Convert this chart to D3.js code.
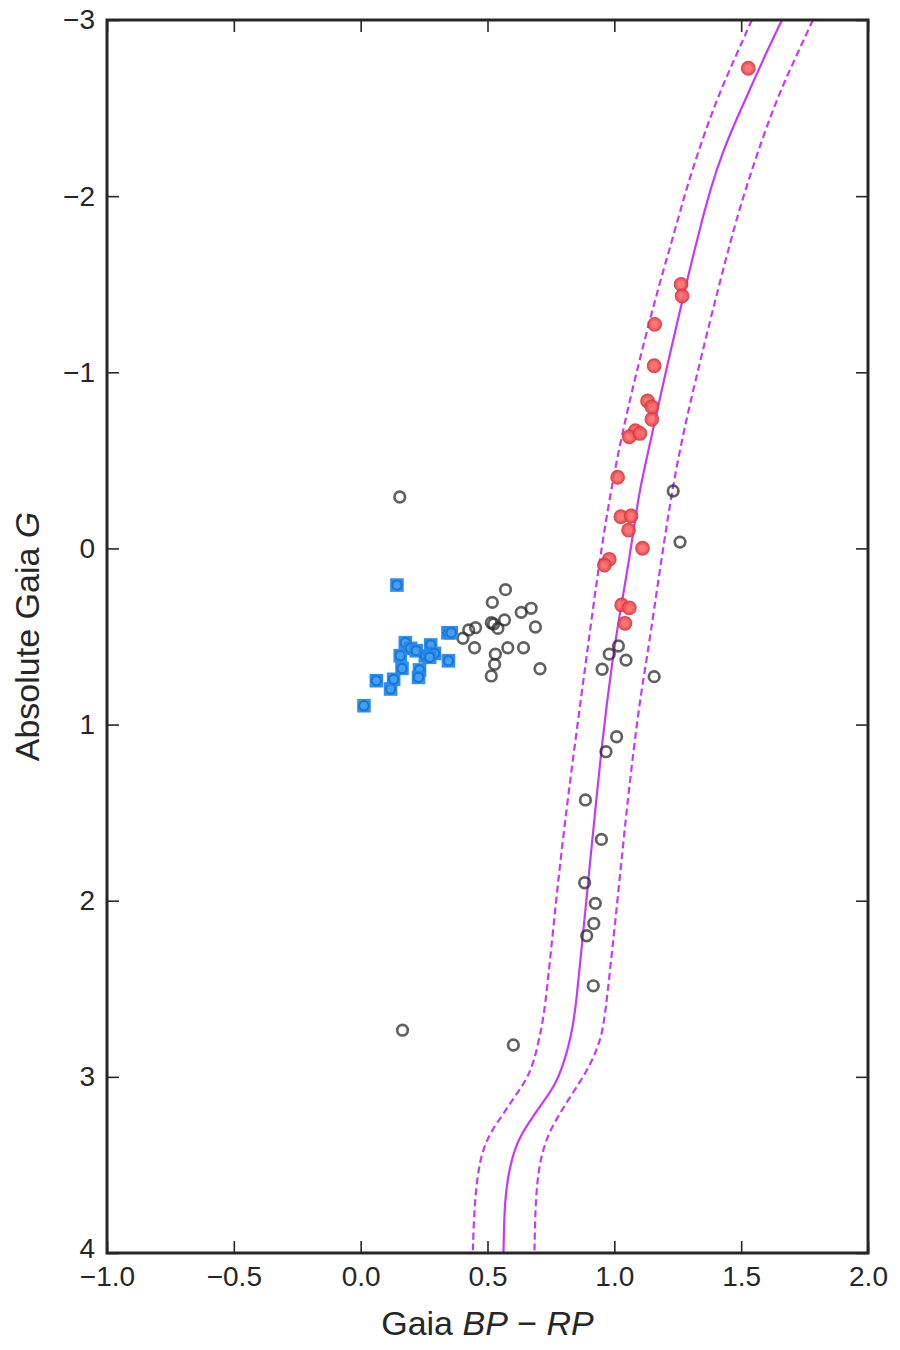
<!DOCTYPE html>
<html>
<head>
<meta charset="utf-8">
<script src="https://cdn.jsdelivr.net/npm/d3@7"></script>
<style>
  body { margin: 0; background: #fff; }
  svg text { font-family: 'Liberation Sans', Arial, sans-serif; }
</style>
</head>
<body>
<div id="chart"></div>
<script>
'use strict'

// isochrone (solid) and its two bounds (dashed), [BP-RP, M_G]
var isoMid = [
  [1.661, -3.0], [1.598, -2.811], [1.539, -2.621], [1.48, -2.432],
  [1.425, -2.243], [1.382, -2.054], [1.346, -1.865], [1.313, -1.675],
  [1.287, -1.524], [1.213, -1.07], [1.126, -0.502], [1.098, -0.315],
  [1.078, -0.122], [1.058, 0.066], [1.036, 0.253], [1.013, 0.446],
  [0.993, 0.633], [0.972, 0.861], [0.949, 1.144], [0.929, 1.428],
  [0.909, 1.712], [0.89, 1.996], [0.87, 2.28], [0.851, 2.564],
  [0.836, 2.72], [0.817, 2.84], [0.795, 2.944], [0.77, 3.035],
  [0.726, 3.131], [0.677, 3.228], [0.618, 3.359], [0.587, 3.512],
  [0.567, 3.699], [0.563, 4.0]
]
var isoBlue = [
  [1.542, -3.0], [1.484, -2.811], [1.425, -2.621], [1.374, -2.432],
  [1.329, -2.243], [1.287, -2.054], [1.25, -1.865], [1.213, -1.675],
  [1.182, -1.524], [1.098, -1.07], [1.006, -0.502], [0.941, 0.066],
  [0.889, 0.633], [0.815, 1.428], [0.77, 1.996], [0.728, 2.609],
  [0.709, 2.751], [0.681, 2.93], [0.646, 3.035], [0.598, 3.131],
  [0.554, 3.228], [0.51, 3.319], [0.482, 3.416], [0.466, 3.512],
  [0.449, 3.699], [0.442, 4.0]
]
var isoRed = [
  [1.783, -3.0], [1.722, -2.811], [1.662, -2.621], [1.61, -2.432],
  [1.564, -2.243], [1.521, -2.054], [1.481, -1.865], [1.446, -1.675],
  [1.418, -1.524], [1.339, -1.07], [1.246, -0.502], [1.185, 0.066],
  [1.128, 0.633], [1.1, 0.861], [1.052, 1.428], [1.013, 1.996],
  [0.969, 2.586], [0.953, 2.751], [0.93, 2.848], [0.9, 2.944],
  [0.862, 3.035], [0.818, 3.131], [0.777, 3.228], [0.742, 3.319],
  [0.719, 3.416], [0.703, 3.512], [0.689, 3.699], [0.685, 4.0]
]

// all stars in the field
var fieldStars = [
  [0.154, -0.292], [0.571, 0.234], [0.519, 0.306], [0.633, 0.363],
  [0.672, 0.34], [0.515, 0.422], [0.524, 0.429], [0.567, 0.406],
  [0.541, 0.454], [0.453, 0.45], [0.426, 0.463], [0.403, 0.51],
  [0.689, 0.446], [0.449, 0.564], [0.58, 0.564], [0.642, 0.564],
  [0.531, 0.6], [0.528, 0.658], [0.515, 0.724], [0.707, 0.683],
  [1.232, -0.326], [1.259, -0.036], [1.016, 0.554], [0.98, 0.6],
  [1.046, 0.634], [0.952, 0.686], [1.157, 0.728], [1.009, 1.069],
  [0.967, 1.154], [0.886, 1.428], [0.949, 1.652], [0.883, 1.898],
  [0.925, 2.015], [0.919, 2.129], [0.891, 2.199], [0.917, 2.483],
  [0.165, 2.735], [0.602, 2.819]
]
// blue horizontal branch members
var blueStars = [
  [0.013, 0.893], [0.062, 0.751], [0.118, 0.798], [0.13, 0.743],
  [0.163, 0.681], [0.156, 0.609], [0.176, 0.535], [0.197, 0.567],
  [0.219, 0.581], [0.232, 0.69], [0.228, 0.732], [0.255, 0.611],
  [0.276, 0.548], [0.291, 0.596], [0.272, 0.618], [0.346, 0.638],
  [0.344, 0.479], [0.357, 0.479], [0.143, 0.208]
]
// red giant branch members
var redStars = [
  [1.528, -2.726], [1.263, -1.499], [1.267, -1.433], [1.159, -1.272],
  [1.157, -1.037], [1.131, -0.837], [1.148, -0.804], [1.148, -0.733],
  [1.083, -0.668], [1.059, -0.634], [1.101, -0.653], [1.013, -0.404],
  [1.026, -0.18], [1.066, -0.184], [1.056, -0.104], [1.111, -0.001],
  [0.98, 0.062], [0.961, 0.094], [1.029, 0.321], [1.059, 0.337],
  [1.042, 0.425]
]

var xTicks = [-1.0, -0.5, 0.0, 0.5, 1.0, 1.5, 2.0]
var yTicks = [-3, -2, -1, 0, 1, 2, 3, 4]

var margin = { top: 20, right: 32, bottom: 97, left: 107 }
var width = 900 - margin.left - margin.right
var height = 1350 - margin.top - margin.bottom
var ink = '#262626'
var purple = '#c43af5'

var x = d3.scaleLinear().domain([-1, 2]).range([0, width])
var y = d3.scaleLinear().domain([-3, 4]).range([0, height])

function minus(s) {
  return s.replace('-', '\u2212')
}

var svg = d3
  .select('#chart')
  .append('svg')
  .attr('width', 900)
  .attr('height', 1350)
  .append('g')
  .attr('transform', 'translate(' + margin.left + ',' + margin.top + ')')

svg
  .append('clipPath')
  .attr('id', 'plot-clip')
  .append('rect')
  .attr('width', width)
  .attr('height', height)

// axes, ticks pointing inwards on all four sides
function styleAxis(g) {
  g.select('.domain').remove()
  g.selectAll('line').attr('stroke', ink).attr('stroke-width', 1.6)
  g.selectAll('text')
    .attr('fill', ink)
    .attr('font-size', '28px')
}

svg
  .append('g')
  .attr('transform', 'translate(0,' + height + ')')
  .call(
    d3.axisBottom(x)
      .tickValues(xTicks)
      .tickSizeInner(-12)
      .tickSizeOuter(0)
      .tickPadding(13)
      .tickFormat(function(d) {
        return minus(d3.format('.1f')(d))
      })
  )
  .call(styleAxis)

svg
  .append('g')
  .call(
    d3.axisTop(x)
      .tickValues(xTicks)
      .tickSizeInner(-12)
      .tickSizeOuter(0)
      .tickFormat('')
  )
  .call(styleAxis)

var yAxis = svg
  .append('g')
  .call(
    d3.axisLeft(y)
      .tickValues(yTicks)
      .tickSizeInner(-12)
      .tickSizeOuter(0)
      .tickPadding(12)
      .tickFormat(function(d) {
        return minus(d3.format('d')(d))
      })
  )
  .call(styleAxis)

// the bottom label sits a touch higher so it clears the x tick labels
yAxis
  .selectAll('.tick text')
  .filter(function(d) { return d === 4 })
  .attr('dy', '0.15em')

svg
  .append('g')
  .attr('transform', 'translate(' + width + ',0)')
  .call(
    d3.axisRight(y)
      .tickValues(yTicks)
      .tickSizeInner(-12)
      .tickSizeOuter(0)
      .tickFormat('')
  )
  .call(styleAxis)

// isochrone lines
var line = d3
  .line()
  .x(function(d) { return x(d[0]) })
  .y(function(d) { return y(d[1]) })
  .curve(d3.curveBasis)

var lines = svg.append('g').attr('clip-path', 'url(#plot-clip)')

lines
  .append('path')
  .datum(isoMid)
  .attr('d', line)
  .attr('fill', 'none')
  .attr('stroke', purple)
  .attr('stroke-width', 2.2)

lines
  .selectAll('.bound')
  .data([isoBlue, isoRed])
  .enter()
  .append('path')
  .attr('class', 'bound')
  .attr('d', line)
  .attr('fill', 'none')
  .attr('stroke', purple)
  .attr('stroke-width', 2.2)
  .attr('stroke-dasharray', '7,4')

// field stars: open grey rings
svg
  .append('g')
  .selectAll('circle')
  .data(fieldStars)
  .enter()
  .append('circle')
  .attr('cx', function(d) { return x(d[0]) })
  .attr('cy', function(d) { return y(d[1]) })
  .attr('r', 5.3)
  .attr('fill', 'none')
  .attr('stroke', '#2a2a2a')
  .attr('stroke-opacity', 0.74)
  .attr('stroke-width', 2.7)

// blue members: square with ring inside
var blue = svg
  .append('g')
  .selectAll('g')
  .data(blueStars)
  .enter()
  .append('g')
  .attr('transform', function(d) {
    return 'translate(' + x(d[0]) + ',' + y(d[1]) + ')'
  })

blue
  .append('rect')
  .attr('x', -6.8)
  .attr('y', -6.8)
  .attr('width', 13.6)
  .attr('height', 13.6)
  .attr('fill', '#2489ee')
  .attr('opacity', 0.95)

blue
  .append('circle')
  .attr('r', 4.6)
  .attr('fill', '#42a0f8')
  .attr('stroke', '#1c74cf')
  .attr('stroke-width', 2)

// red members
var red = svg
  .append('g')
  .selectAll('g')
  .data(redStars)
  .enter()
  .append('g')
  .attr('transform', function(d) {
    return 'translate(' + x(d[0]) + ',' + y(d[1]) + ')'
  })
  .attr('opacity', 0.92)

red
  .append('circle')
  .attr('r', 6.6)
  .attr('fill', '#f05557')
  .attr('stroke', '#d43f43')
  .attr('stroke-width', 1.6)

red
  .append('circle')
  .attr('r', 3.6)
  .attr('fill', '#ff6b6c')

// frame
svg
  .append('rect')
  .attr('width', width)
  .attr('height', height)
  .attr('fill', 'none')
  .attr('stroke', ink)
  .attr('stroke-width', 3)

// axis titles
var xTitle = svg
  .append('text')
  .attr('x', width / 2)
  .attr('y', height + 82)
  .attr('text-anchor', 'middle')
  .attr('font-size', '34px')
  .attr('fill', ink)

xTitle.append('tspan').text('Gaia ')
xTitle.append('tspan').attr('font-style', 'italic').text('BP')
xTitle.append('tspan').text(' \u2212 ')
xTitle.append('tspan').attr('font-style', 'italic').text('RP')

var yTitle = svg
  .append('text')
  .attr('transform', 'translate(' + (-68) + ',' + height / 2 + ') rotate(-90)')
  .attr('text-anchor', 'middle')
  .attr('font-size', '34px')
  .attr('fill', ink)

yTitle.append('tspan').text('Absolute Gaia ')
yTitle.append('tspan').attr('font-style', 'italic').text('G')
</script>
</body>
</html>
